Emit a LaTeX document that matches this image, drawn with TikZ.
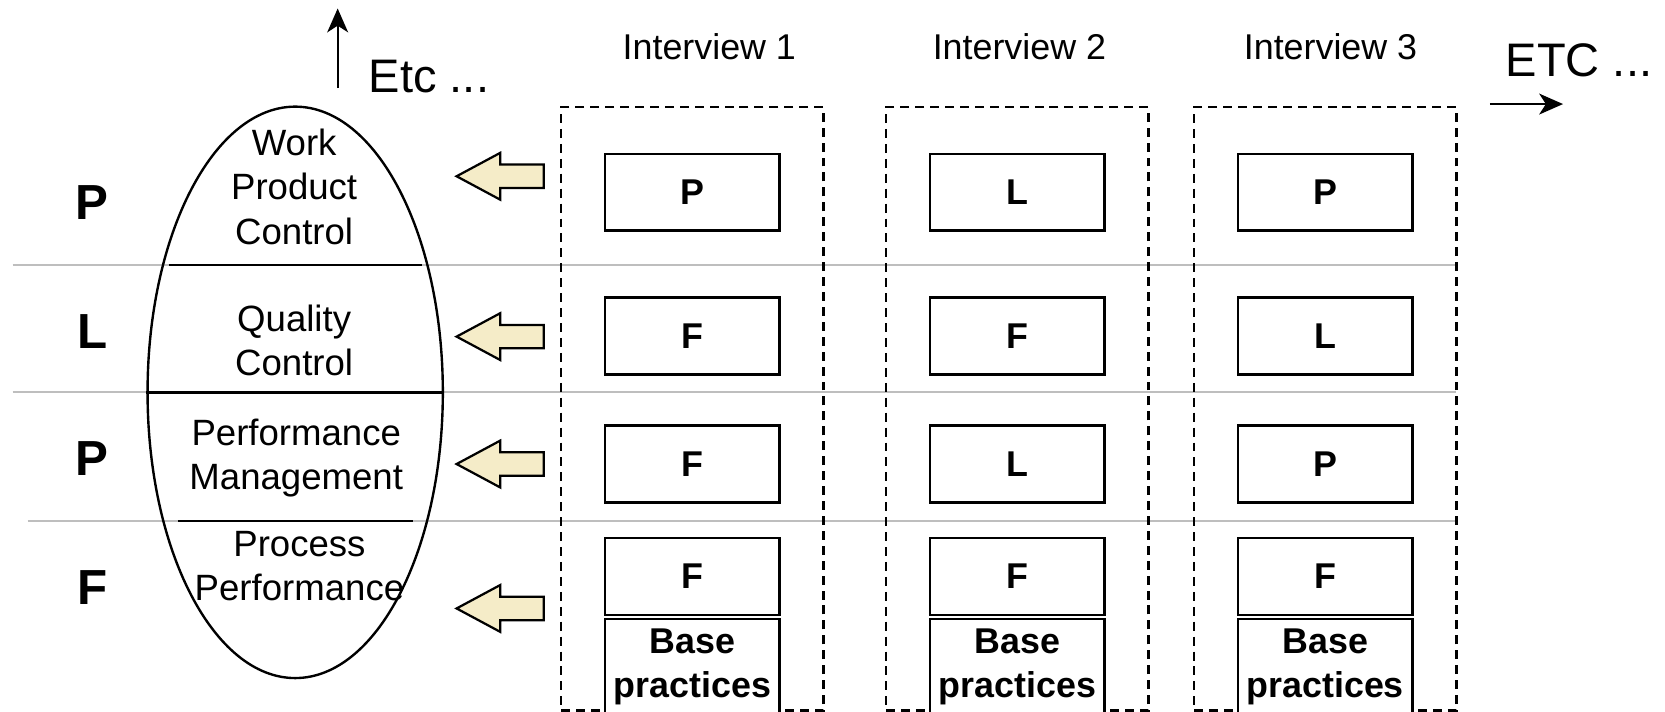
\documentclass[tikz,border=0pt]{standalone}
\usepackage{fontspec}
\setmainfont{Liberation Sans}
\usetikzlibrary{arrows.meta,positioning,shapes.geometric}
\definecolor{cream}{RGB}{245,236,200}
\definecolor{rulegray}{RGB}{190,190,190}
\newcommand{\feedback}[1]{\draw[fbarrow] (430,#1) -- (471,#1-22) -- (471,#1-11) -- (512,#1-11) -- (512,#1+11) -- (471,#1+11) -- (471,#1+22) -- cycle;}

\begin{document}
\begin{tikzpicture}[
  x=0.025cm, y=-0.025cm,
  >={Stealth[length=16pt,width=14pt,inset=4.5pt]},
  rowline/.style={draw=rulegray,line width=1.4pt},
  attr/.style={draw,ellipse,line width=1.6pt,minimum width=6.95cm,minimum height=13.45cm,inner sep=0pt},
  attrtext/.style={align=center,inner sep=0pt,font=\fontsize{24.5}{29.5}\selectfont},
  level/.style={font=\fontsize{33}{36}\selectfont\bfseries,inner sep=0pt},
  frame/.style={draw,line width=1.6pt,dash pattern=on 6pt off 4pt,minimum width=6.175cm,minimum height=14.2cm,inner sep=0pt},
  heading/.style={font=\fontsize{24}{29}\selectfont,inner sep=0pt},
  rating/.style={draw,line width=1.6pt,fill=white,minimum width=4.1cm,minimum height=1.81cm,inner sep=0pt,font=\fontsize{24}{29}\selectfont\bfseries},
  basebox/.style={rating,minimum height=2.25cm,align=center,font=\fontsize{24}{29.5}\selectfont\bfseries},
  etc/.style={font=\fontsize{31.5}{36}\selectfont,inner sep=0pt},
  fbarrow/.style={draw,fill=cream,line width=1.5pt,line join=miter}
]
  \useasboundingbox (0,0) rectangle (1568,670);

  % rows
  \draw[rowline] (12,249.5) -- (1371,249.5);
  \draw[rowline] (12,369.5) -- (1371,369.5);
  \draw[rowline] (26,490.6) -- (1371,490.6);

  % process attributes
  \node[attr] (pa) at (278,369.5) {};
  \draw[line width=1.6pt] (159,249.5) -- (397,249.5);
  \draw[line width=1.6pt] (pa.west) -- (pa.east);
  \draw[line width=1.6pt] (167.5,490.6) -- (389,490.6);
  \node[attrtext] (wpc) at (277,176) {Work\\Product\\Control};
  \node[attrtext] (qc) at (277,321) {Quality\\Control};
  \node[attrtext] (pm) at (279,431) {Performance\\Management};
  \node[attrtext] (pp) at (282,533) {Process\\Performance};

  \node[level] (lv1) at (87,191) {P};
  \node[level] (lv2) at (87,312) {L};
  \node[level] (lv3) at (87,432) {P};
  \node[level] (lv4) at (87,553) {F};

  \coordinate (up0) at (318,83);
  \coordinate (up1) at (318,8);
  \draw[->,line width=1.4pt] (up0) -- (up1);
  \node[etc] (etcup) at (404,72) {Etc ...};

  % interviews
  \node[frame] (int1) at (652,385) {};
  \node[frame] (int2) at (958,385) {};
  \node[frame] (int3) at (1248,385) {};
  \node[heading] (h1) at (668,44) {Interview 1};
  \node[heading] (h2) at (960,44) {Interview 2};
  \node[heading] (h3) at (1253,44) {Interview 3};

  \node[rating] (c1wp) at (652,181) {P};
  \node[rating] (c1qc) at (652,316.5) {F};
  \node[rating] (c1pm) at (652,437) {F};
  \node[rating] (c1pp) at (652,543) {F};
  \node[basebox,below=1pt of c1pp] (c1bp) {Base\\practices};

  \node[rating] (c2wp) at (958,181) {L};
  \node[rating] (c2qc) at (958,316.5) {F};
  \node[rating] (c2pm) at (958,437) {L};
  \node[rating] (c2pp) at (958,543) {F};
  \node[basebox,below=1pt of c2pp] (c2bp) {Base\\practices};

  \node[rating] (c3wp) at (1248,181) {P};
  \node[rating] (c3qc) at (1248,316.5) {L};
  \node[rating] (c3pm) at (1248,437) {P};
  \node[rating] (c3pp) at (1248,543) {F};
  \node[basebox,below=1pt of c3pp] (c3bp) {Base\\practices};

  \node[etc] (etcright) at (1487,56.5) {ETC ...};
  \coordinate (rt0) at (1403,98);
  \coordinate (rt1) at (1472,98);
  \draw[->,line width=1.4pt] (rt0) -- (rt1);

  % feedback to the attributes
  \feedback{166}
  \feedback{317}
  \feedback{437}
  \feedback{573}
\end{tikzpicture}
\end{document}
